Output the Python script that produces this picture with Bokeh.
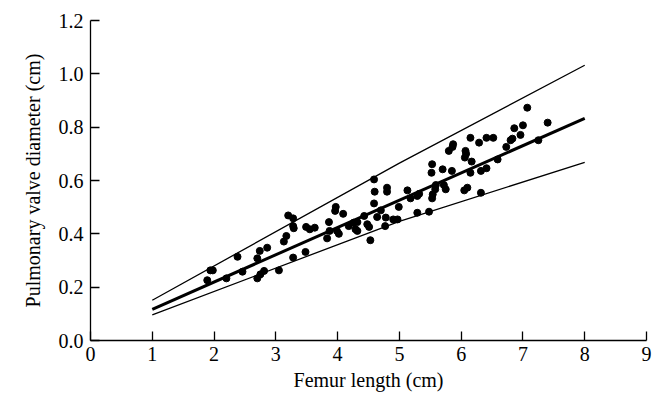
from bokeh.plotting import figure
from bokeh.models import FixedTicker, PrintfTickFormatter, Range1d
from bokeh.embed import file_html
from bokeh.resources import INLINE

# Scatter data: femur length (cm) vs pulmonary valve diameter (cm)
femur = [1.89, 1.94, 1.98, 2.20, 2.38, 2.46, 2.70, 2.75, 2.81, 2.70, 2.74, 2.86,
         3.05, 3.13, 3.17, 3.20, 3.28, 3.28, 3.29, 3.28, 3.48, 3.49, 3.55, 3.63,
         3.83, 3.86, 3.87, 3.96, 3.97, 3.99, 4.02, 4.09, 4.18, 4.26, 4.29, 4.32,
         4.32, 4.43, 4.48, 4.51, 4.53, 4.59, 4.60, 4.59, 4.64, 4.70, 4.77, 4.78,
         4.80, 4.80, 4.90, 4.97, 4.99, 5.13, 5.18, 5.29, 5.29, 5.32, 5.48, 5.52,
         5.53, 5.53, 5.54, 5.58, 5.59, 5.70, 5.72, 5.75, 5.80, 5.85, 5.86, 5.87,
         6.05, 6.06, 6.07, 6.08, 6.10, 6.15, 6.15, 6.17, 6.29, 6.32, 6.32, 6.41,
         6.41, 6.52, 6.59, 6.73, 6.80, 6.83, 6.86, 6.96, 7.00, 7.07, 7.25, 7.40]
valve = [0.226, 0.263, 0.263, 0.233, 0.314, 0.258, 0.233, 0.248, 0.261, 0.308, 0.336, 0.348,
         0.263, 0.371, 0.392, 0.469, 0.458, 0.429, 0.421, 0.311, 0.332, 0.426, 0.417, 0.423,
         0.383, 0.444, 0.411, 0.486, 0.501, 0.411, 0.400, 0.475, 0.429, 0.442, 0.417, 0.444,
         0.411, 0.467, 0.436, 0.426, 0.376, 0.604, 0.558, 0.514, 0.463, 0.488, 0.429, 0.461,
         0.573, 0.558, 0.454, 0.454, 0.501, 0.563, 0.533, 0.479, 0.542, 0.550, 0.483, 0.629,
         0.661, 0.533, 0.548, 0.567, 0.583, 0.642, 0.583, 0.567, 0.711, 0.636, 0.726, 0.736,
         0.563, 0.686, 0.711, 0.700, 0.573, 0.760, 0.629, 0.671, 0.742, 0.636, 0.554, 0.646,
         0.760, 0.760, 0.679, 0.726, 0.751, 0.757, 0.796, 0.771, 0.807, 0.873, 0.751, 0.817]

# Regression line and limits
line_x = [1, 8]
mean_y = [0.117, 0.833]
upper_x = [1, 5, 8]
upper_y = [0.151, 0.665, 1.032]
lower_x = [1, 5, 8]
lower_y = [0.096, 0.447, 0.668]

x_ticks = [0, 1, 2, 3, 4, 5, 6, 7, 8, 9]
y_ticks = [0.0, 0.2, 0.4, 0.6, 0.8, 1.0, 1.2]

FONT = "Liberation Serif"

p = figure(width=659, height=396, output_backend="svg", toolbar_location=None,
           x_range=Range1d(0, 9), y_range=Range1d(0, 1.2),
           min_border_left=90, min_border_right=13, min_border_top=20, min_border_bottom=56)
p.outline_line_color = None
p.xgrid.grid_line_color = None
p.ygrid.grid_line_color = None
p.background_fill_color = "white"
p.border_fill_color = "white"

p.line(upper_x, upper_y, line_color="black", line_width=1.3)
p.line(lower_x, lower_y, line_color="black", line_width=1.3)
p.line(line_x, mean_y, line_color="black", line_width=3)
p.scatter(femur, valve, size=7, fill_color="black", line_color="black")

for ax in (p.xaxis[0], p.yaxis[0]):
    ax.major_tick_in = 9
    ax.major_tick_out = 0
    ax.minor_tick_line_color = None
    ax.axis_line_color = "black"
    ax.axis_line_width = 1.3
    ax.major_tick_line_color = "black"
    ax.major_tick_line_width = 1.3
    ax.major_label_text_font = FONT
    ax.major_label_text_font_size = "20px"
    ax.major_label_text_color = "black"
    ax.axis_label_text_font = FONT
    ax.axis_label_text_font_size = "20px"
    ax.axis_label_text_font_style = "normal"
    ax.axis_label_text_color = "black"

p.xaxis.ticker = FixedTicker(ticks=x_ticks)
p.xaxis.formatter = PrintfTickFormatter(format="%d")
p.yaxis.ticker = FixedTicker(ticks=y_ticks)
p.yaxis.formatter = PrintfTickFormatter(format="%.1f")
p.xaxis.axis_label = "Femur length (cm)"
p.yaxis.axis_label = "Pulmonary valve diameter (cm)"
p.xaxis.major_label_standoff = 6
p.yaxis.major_label_standoff = 7
p.xaxis.axis_label_standoff = 5
p.yaxis.axis_label_standoff = 12

open("out.html", "w").write(file_html(p, INLINE))
